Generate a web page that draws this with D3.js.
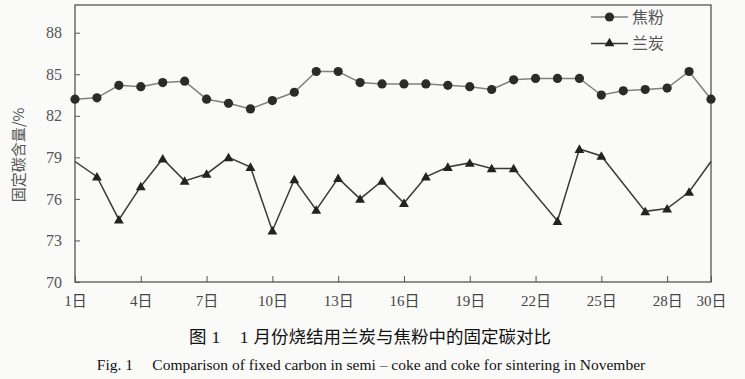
<!DOCTYPE html>
<html>
<head>
<meta charset="utf-8">
<script src="https://cdn.jsdelivr.net/npm/d3@7"></script>
<style>
  body { margin: 0; background: #fafaf9; }
  svg { display: block; }
</style>
</head>
<body>
<svg width="745" height="379"></svg>
<script>
// days of the month
const days = [1, 2, 3, 4, 5, 6, 7, 8, 9, 10, 11, 12, 13, 14, 15, 16, 17, 18, 19, 20, 21, 22, 23, 24, 25, 26, 27, 28, 29, 30];
// 焦粉 fixed carbon, %
const coke = [83.2, 83.3, 84.2, 84.1, 84.4, 84.5, 83.2, 82.9, 82.5, 83.1, 83.7, 85.2, 85.2, 84.4, 84.3, 84.3, 84.3, 84.2, 84.1, 83.9, 84.6, 84.7, 84.7, 84.7, 83.5, 83.8, 83.9, 84.0, 85.2, 83.2];
// 兰炭 fixed carbon, % (null = no sample that day)
const semiCoke = [78.7, 77.6, 74.5, 76.9, 78.9, 77.3, 77.8, 79.0, 78.3, 73.7, 77.4, 75.2, 77.5, 76.0, 77.3, 75.7, 77.6, 78.3, 78.6, 78.2, 78.2, null, 74.4, 79.6, 79.1, null, 75.1, 75.3, 76.5, 78.7];

const xTicks = [1, 4, 7, 10, 13, 16, 19, 22, 25, 28, 30];
const yTicks = [70, 73, 76, 79, 82, 85, 88];
const seriesNames = ["焦粉", "兰炭"];

const numFont = "'Liberation Serif', 'Noto Sans CJK SC', serif";
const cjkFont = "'Noto Sans CJK SC', sans-serif";
const axisGray = "#555";

const margin = {top: 5, right: 34, bottom: 97, left: 75};
const width = 745 - margin.left - margin.right;
const height = 379 - margin.top - margin.bottom;

const svg = d3.select("svg");
const g = svg.append("g")
  .attr("transform", `translate(${margin.left}, ${margin.top})`);

const x = d3.scaleLinear().domain([1, 30]).range([0, width]);
const y = d3.scaleLinear().domain([70, 90]).range([height, 0]);

// frame
g.append("rect")
  .attr("width", width)
  .attr("height", height)
  .attr("fill", "none")
  .attr("stroke", axisGray)
  .attr("stroke-width", 1.3);

// x axis, ticks inward
const xAxis = g.append("g")
  .attr("transform", `translate(0, ${height})`)
  .call(d3.axisBottom(x).tickValues(xTicks).tickSize(-6).tickPadding(13)
    .tickFormat(d => d + "日"));
xAxis.select(".domain").remove();
xAxis.selectAll("line").attr("stroke", axisGray);
xAxis.selectAll("text")
  .attr("font-family", numFont)
  .attr("font-size", "15px")
  .attr("fill", "#444");

// y axis, ticks inward
const yAxis = g.append("g")
  .call(d3.axisLeft(y).tickValues(yTicks).tickSize(-5).tickPadding(13));
yAxis.select(".domain").remove();
yAxis.selectAll("line").attr("stroke", axisGray);
yAxis.selectAll("text")
  .attr("font-family", numFont)
  .attr("font-size", "16px")
  .attr("fill", "#555");

// y label
svg.append("text")
  .attr("transform", "translate(24, 155) rotate(-90)")
  .attr("text-anchor", "middle")
  .attr("font-family", cjkFont)
  .attr("font-size", "15px")
  .attr("fill", "#555")
  .text("固定碳含量/%");

const line = d3.line()
  .x(d => x(d.day))
  .y(d => y(d.value));

const cokeData = days.map((d, i) => ({day: d, value: coke[i]}));
const semiData = days.map((d, i) => ({day: d, value: semiCoke[i]}))
  .filter(d => d.value !== null);

// 焦粉 line + dots
g.append("path")
  .datum(cokeData)
  .attr("d", line)
  .attr("fill", "none")
  .attr("stroke", "#808080")
  .attr("stroke-width", 1.5);

g.append("g")
  .selectAll("circle")
  .data(cokeData)
  .enter()
  .append("circle")
  .attr("cx", d => x(d.day))
  .attr("cy", d => y(d.value))
  .attr("r", 4.6)
  .attr("fill", "#2b2b2b");

// 兰炭 line + triangles (no marker at the two ends)
g.append("path")
  .datum(semiData)
  .attr("d", line)
  .attr("fill", "none")
  .attr("stroke", "#3a3a3a")
  .attr("stroke-width", 1.5);

const tri = d3.symbol().type(d3.symbolTriangle).size(42);
g.append("g")
  .selectAll("path")
  .data(semiData.filter(d => d.day !== 1 && d.day !== 30))
  .enter()
  .append("path")
  .attr("d", tri)
  .attr("transform", d => `translate(${x(d.day)}, ${y(d.value) + 1})`)
  .attr("fill", "#222");

// legend
const legend = svg.append("g").attr("transform", "translate(591, 17)");
seriesNames.forEach((name, i) => {
  const row = legend.append("g").attr("transform", `translate(0, ${i * 26.5})`);
  row.append("line")
    .attr("x1", 0).attr("x2", 37)
    .attr("stroke", i === 0 ? "#808080" : "#3a3a3a")
    .attr("stroke-width", 1.5);
  if (i === 0) {
    row.append("circle").attr("cx", 18.5).attr("r", 4.6).attr("fill", "#2b2b2b");
  } else {
    row.append("path").attr("d", tri).attr("transform", "translate(18.5, 0)").attr("fill", "#222");
  }
  row.append("text")
    .attr("x", 41)
    .attr("dy", "0.35em")
    .attr("font-family", cjkFont)
    .attr("font-size", "16px")
    .attr("fill", "#555")
    .text(name);
});

// captions
const cap = svg.append("text")
  .attr("x", 370)
  .attr("y", 337)
  .attr("dy", "0.35em")
  .attr("text-anchor", "middle")
  .attr("font-family", cjkFont)
  .attr("font-size", "17.5px")
  .attr("fill", "#111");
cap.append("tspan").text("图");
cap.append("tspan").attr("dx", 5).attr("font-family", numFont).text("1");
cap.append("tspan").attr("dx", 20).attr("font-family", numFont).text("1");
cap.append("tspan").attr("dx", 5).text("月份烧结用兰炭与焦粉中的固定碳对比");

svg.append("text")
  .attr("x", 371)
  .attr("y", 365)
  .attr("dy", "0.35em")
  .attr("text-anchor", "middle")
  .attr("font-family", numFont)
  .attr("font-size", "15.5px")
  .attr("fill", "#111")
  .attr("xml:space", "preserve")
  .text("Fig. 1     Comparison of fixed carbon in semi – coke and coke for sintering in November");
</script>
</body>
</html>
